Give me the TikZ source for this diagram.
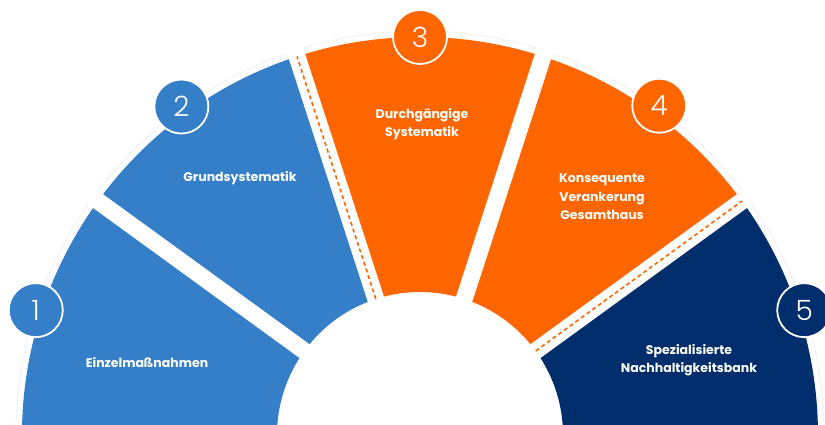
\documentclass[tikz,border=0pt]{standalone}
\usepackage{fontspec}
\setmainfont{Poppins}
\newfontfamily\numfont{Poppins Light}
\definecolor{segblue}{HTML}{357EC8}
\definecolor{segorange}{HTML}{FF6600}
\definecolor{segnavy}{HTML}{002D6B}
\tikzset{
  gapline/.style={white, line width=17pt},
  gapdash/.style={segorange, line width=1.6pt, dash pattern=on 4pt off 3pt},
  numcircle/.style={circle, draw=white, line width=1.8pt, minimum size=54pt, inner sep=0pt,
    text=white, font=\numfont\fontsize{28}{28}\selectfont},
  lbl/.style={text=white, align=center, font=\bfseries\fontsize{12.5}{18.5}\selectfont}
}
\begin{document}
\begin{tikzpicture}[x=1pt,y=1pt]
	\useasboundingbox (-420,10) rectangle (405,435);
	\clip (-420,10) rectangle (405,435);
	\draw [black!5, line width=1pt] (180:404) arc (180:0:404);
	% segments
	\fill [segblue] (185:143) -- (185:398) arc (185:108:398) -- (108:143) arc (108:185:143) -- cycle;
	\fill [segorange] (108:143) -- (108:398) arc (108:36:398) -- (36:143) arc (36:108:143) -- cycle;
	\fill [segnavy] (36:143) -- (36:398) arc (36:-5:398) -- (-5:143) arc (-5:36:143) -- cycle;
	\foreach \a in {36,72,108,144}
		\draw [gapline] (\a:130) -- (\a:420);
	\foreach \a in {36,108}
		\draw [gapdash] (\a:143) -- (\a:398);
	% numbers
	\node [numcircle, fill=segblue] (n1) at (162:404) {1};
	\node [numcircle, fill=segblue] (n2) at (126:406) {2};
	\node [numcircle, fill=segorange] (n3) at (90:398) {3};
	\node [numcircle, fill=segorange] (n4) at (54:407) {4};
	\node [numcircle, fill=segnavy] (n5) at (18:404) {5};
	% labels
	\node [lbl] (l1) at (-273,72) {Einzelmaßnahmen};
	\node [lbl] (l2) at (-180,257) {Grundsystematik};
	\node [lbl] (l3) at (2,311) {Durchgängige\\Systematik};
	\node [lbl] (l4) at (182,238) {Konsequente\\Verankerung\\Gesamthaus};
	\node [lbl] (l5) at (269,75) {Spezialisierte\\Nachhaltigkeitsbank};
\end{tikzpicture}
\end{document}
